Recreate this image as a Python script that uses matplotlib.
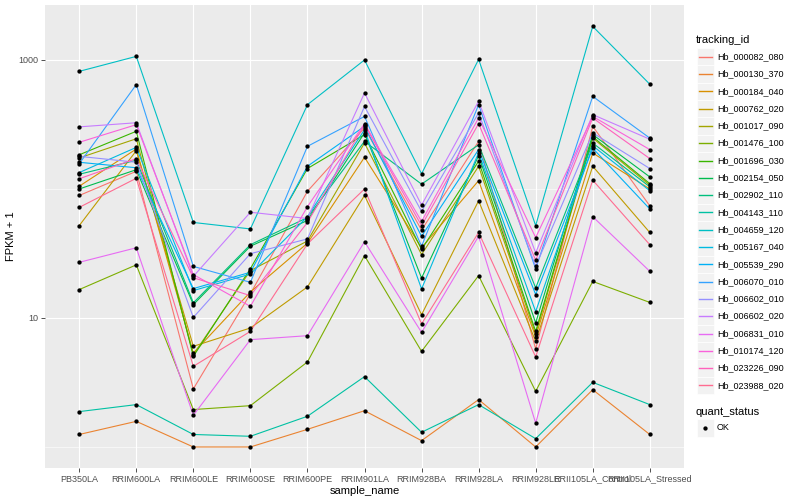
import matplotlib
matplotlib.use("Agg")
import matplotlib.pyplot as plt
from matplotlib.lines import Line2D
from matplotlib.patches import Rectangle
from matplotlib.ticker import FixedLocator, NullFormatter

plt.rcParams["font.family"] = ["Liberation Sans", "DejaVu Sans"]

samples = ["PB350LA", "RRIM600LA", "RRIM600LE", "RRIM600SE", "RRIM600PE", "RRIM901LA",
           "RRIM928BA", "RRIM928LA", "RRIM928LE", "RRII105LA_Control", "RRII105LA_Stressed"]

tracking_ids = ["Hb_000082_080", "Hb_000130_370", "Hb_000184_040", "Hb_000762_020",
                "Hb_001017_090", "Hb_001476_100", "Hb_001696_030", "Hb_002154_050",
                "Hb_002902_110", "Hb_004143_110", "Hb_004659_120", "Hb_005167_040",
                "Hb_005539_290", "Hb_006070_010", "Hb_006602_010", "Hb_006602_020",
                "Hb_006831_010", "Hb_010174_120", "Hb_023226_090", "Hb_023988_020"]

# ggplot default hue palette for 20 levels
hue_colors = ["#F8766D", "#EA8331", "#D89000", "#C09B00", "#A3A500", "#7CAE00", "#39B600",
              "#00BB4E", "#00BF7D", "#00C1A3", "#00BFC4", "#00BAE0", "#00B0F6", "#35A2FF",
              "#9590FF", "#C77CFF", "#E76BF3", "#FA62DB", "#FF62BC", "#FF6C91"]

# FPKM + 1 per sample
hb_000082_080 = [89, 137, 2.82, 15.4, 96, 297, 48, 234, 5.75, 306, 74]
hb_000130_370 = [1.25, 1.58, 1.0, 1.0, 1.37, 1.91, 1.12, 2.33, 1.0, 2.78, 1.25]
hb_000184_040 = [105, 204, 5.35, 15.9, 38, 176, 35, 116, 7.16, 190, 100]
hb_000762_020 = [52, 198, 6.03, 8.36, 17.4, 89, 10.6, 81, 6.59, 150, 46]
hb_001017_090 = [174, 245, 5.2, 23.3, 39.5, 227, 31, 150, 7.51, 248, 107]
hb_001476_100 = [16.6, 25.8, 1.95, 2.09, 4.56, 30.4, 5.51, 21.3, 2.70, 19.2, 13.2]
hb_001696_030 = [184, 280, 5.04, 24.1, 144, 264, 34, 164, 7.87, 254, 110]
hb_002154_050 = [100, 141, 12.7, 36, 57, 272, 20.4, 181, 9.15, 264, 124]
hb_002902_110 = [130, 167, 13.1, 37, 60, 234, 109, 220, 17.1, 227, 104]
hb_004143_110 = [1.88, 2.13, 1.25, 1.21, 1.73, 3.51, 1.30, 2.13, 1.16, 3.17, 2.13]
hb_004659_120 = [816, 1066, 55, 49, 450, 1000, 131, 1010, 52, 1820, 649]
hb_005167_040 = [134, 210, 16.3, 21.9, 61, 288, 16.8, 191, 11.2, 216, 97]
hb_005539_290 = [161, 146, 16.9, 22.6, 150, 306, 43, 202, 15.2, 207, 70]
hb_006070_010 = [157, 644, 25.1, 18.9, 214, 365, 36, 450, 24, 522, 248]
hb_006602_010 = [179, 161, 10.1, 31.5, 41, 436, 67, 388, 25.1, 272, 144]
hb_006602_020 = [303, 326, 21, 66, 59, 555, 75, 478, 32, 377, 243]
hb_006831_010 = [27, 35, 1.76, 6.79, 7.29, 39, 7.73, 43, 1.53, 61, 23]
hb_010174_120 = [230, 315, 21.7, 12.3, 73, 321, 56, 355, 42, 365, 202]
hb_023226_090 = [120, 172, 20.5, 14.9, 55, 315, 52, 321, 28, 355, 172]
hb_023988_020 = [72, 121, 4.22, 7.87, 37.5, 100, 9.0, 46, 4.99, 117, 37]

series = [hb_000082_080, hb_000130_370, hb_000184_040, hb_000762_020, hb_001017_090,
          hb_001476_100, hb_001696_030, hb_002154_050, hb_002902_110, hb_004143_110,
          hb_004659_120, hb_005167_040, hb_005539_290, hb_006070_010, hb_006602_010,
          hb_006602_020, hb_006831_010, hb_010174_120, hb_023226_090, hb_023988_020]

W, H = 800, 500
fig = plt.figure(figsize=(8, 5), dpi=100)
ax = fig.add_axes([45 / W, 1 - 468 / H, (684 - 45) / W, (468 - 5) / H])
ax.set_facecolor("#EBEBEB")
for s in ax.spines.values():
    s.set_visible(False)

x = list(range(len(samples)))
for vals, col in zip(series, hue_colors):
    ax.plot(x, vals, color=col, lw=0.8, zorder=3)
for vals in series:
    ax.plot(x, vals, "o", color="black", ms=3.1, mew=0, zorder=4)

ax.set_yscale("log")
ax.set_ylim(10 ** -0.163, 10 ** 3.426)
ax.set_xlim(-0.6, len(samples) - 0.4)
ax.yaxis.set_major_locator(FixedLocator([10, 1000]))
ax.yaxis.set_minor_locator(FixedLocator([1, 100]))
ax.yaxis.set_minor_formatter(NullFormatter())
ax.set_yticklabels(["10", "1000"])
ax.set_xticks(x)
ax.set_xticklabels(samples)
ax.tick_params(axis="both", which="major", length=2.7, width=0.6, color="#333333",
               labelsize=6.5, labelcolor="#4D4D4D", pad=2)
ax.tick_params(axis="y", which="minor", length=0)
ax.grid(True, which="major", color="white", lw=0.8)
ax.grid(True, which="minor", axis="y", color="white", lw=0.4)
ax.set_axisbelow(True)
ax.set_xlabel("sample_name", fontsize=8, labelpad=2)
ax.set_ylabel("FPKM + 1", fontsize=8, labelpad=2)


def fx(px):
    return px / W


def fy(py):
    return 1 - py / H


# legend: tracking_id
fig.text(fx(696), fy(40), "tracking_id", fontsize=8, va="center", ha="left")
step = 17.3
for i, (name, col) in enumerate(zip(tracking_ids, hue_colors)):
    yc = 56.7 + i * step
    fig.add_artist(Rectangle((fx(697), fy(yc + step / 2)), 16.5 / W, step / H,
                             transform=fig.transFigure, facecolor="#F2F2F2",
                             edgecolor="white", lw=0.5, zorder=1))
    fig.add_artist(Line2D([fx(698.5), fx(712)], [fy(yc), fy(yc)], color=col, lw=1.0,
                          transform=fig.transFigure, zorder=5))
    fig.text(fx(717), fy(yc), name, fontsize=6.5, va="center", ha="left")

# legend: quant_status
fig.text(fx(696), fy(412), "quant_status", fontsize=8, va="center", ha="left")
fig.add_artist(Rectangle((fx(697), fy(428 + step / 2)), 16.5 / W, step / H,
                         transform=fig.transFigure, facecolor="#F2F2F2",
                         edgecolor="white", lw=0.5, zorder=1))
fig.add_artist(Line2D([fx(705)], [fy(428)], marker="o", color="black", ms=3.1, mew=0,
                      transform=fig.transFigure, zorder=5))
fig.text(fx(717), fy(428), "OK", fontsize=6.5, va="center", ha="left")

fig.savefig("out.png", dpi=100)
